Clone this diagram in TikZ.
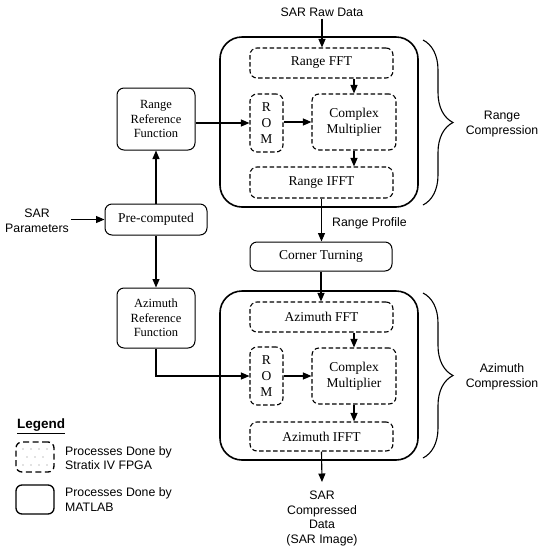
\documentclass[tikz,border=0pt]{standalone}
\usepackage{fontspec}
\setmainfont{Liberation Serif}
\newfontfamily\arialf{Liberation Sans}
\usetikzlibrary{arrows.meta,decorations.pathreplacing}
\begin{document}
\begin{tikzpicture}[x=1pt,y=-1pt,
 fpga/.style={draw, dash pattern=on 4.5pt off 2.5pt, line width=1.1pt, rounded corners=7pt, inner sep=0pt, font=\fontsize{13.5}{16}\selectfont, align=center},
 matlab/.style={draw, line width=1pt, rounded corners=7pt, inner sep=0pt, align=center, font=\fontsize{13.5}{16}\selectfont},
 reffn/.style={matlab, font=\fontsize{12.5}{14.3}\selectfont},
 bigbox/.style={draw, line width=1.6pt, rounded corners=22pt, inner sep=0pt},
 lbl/.style={font=\arialf\fontsize{12.3}{14.5}\selectfont, align=center, inner sep=2pt},
 arr/.style={-{Triangle[length=8.5pt,width=7pt]}, line width=1.1pt},
 brc/.style={decorate, decoration={brace, amplitude=30pt}, line width=1.1pt}]
\useasboundingbox (0,0) rectangle (541,550);
% big MATLAB boxes
\node[bigbox, minimum width=198pt, minimum height=170pt] (rbox) at (319,122) {};
\node[bigbox, minimum width=198pt, minimum height=169pt] (abox) at (319,375.5) {};
% range compression
\node[fpga, minimum width=143pt, minimum height=30pt] (rfft) at (321.5,63) {Range FFT};
\node[fpga, minimum width=33pt, minimum height=58pt] (rom) at (266.5,123) {R\\O\\M};
\node[fpga, minimum width=84pt, minimum height=56pt] (cm) at (354,122) {Complex\\Multiplier};
\node[fpga, minimum width=143pt, minimum height=31pt] (rifft) at (321.5,182.5) {Range IFFT};
% left side
\node[reffn, minimum width=78pt, minimum height=62pt] (rref) at (156,119) {Range\\Reference\\Function};
\node[matlab, minimum width=102pt, minimum height=31pt] (pre) at (156,219.5) {Pre-computed};
\node[reffn, minimum width=78pt, minimum height=60pt] (aref) at (156,318) {Azimuth\\Reference\\Function};
% middle
\node[matlab, minimum width=142pt, minimum height=29pt] (corner) at (321,256.5) {Corner Turning};
% azimuth compression
\node[fpga, minimum width=143pt, minimum height=30pt] (afft) at (321.5,317) {Azimuth FFT};
\node[fpga, minimum width=33pt, minimum height=58pt] (rom2) at (266.5,376) {R\\O\\M};
\node[fpga, minimum width=84pt, minimum height=56pt] (cm2) at (354,376) {Complex\\Multiplier};
\node[fpga, minimum width=143pt, minimum height=29pt] (aifft) at (321.5,436.5) {Azimuth IFFT};
% text labels
\node[lbl] (raw) at (322,12) {SAR Raw Data};
\node[lbl] (sarp) at (37,221) {SAR\\Parameters};
\node[lbl, anchor=west] (rp) at (330,223) {Range Profile};
\node[lbl, anchor=north] (out) at (322,489) {SAR\\Compressed\\Data\\(SAR Image)};
\coordinate (outend) at (322,482);
% connectors
\draw[arr] (raw.south) -- (raw.south |- rfft.north);
\draw[arr] (sarp.east |- pre) -- (pre.west);
\draw[arr] (pre.north) -- (rref.south);
\draw[arr] (pre.south) -- (aref.north);
\draw[arr] (rref.east |- rom) -- (rom.west);
\draw[arr] (rfft.south -| cm) -- (cm.north);
\draw[arr] (rom.east |- cm) -- (cm.west);
\draw[arr] (cm.south) -- (cm.south |- rifft.north);
\draw[arr] (rifft.south) -- (rifft.south |- corner.north);
\draw[arr] (corner.south) -- (corner.south |- afft.north);
\draw[arr] (afft.south -| cm2) -- (cm2.north);
\draw[arr] (rom2.east |- cm2) -- (cm2.west);
\draw[arr] (cm2.south) -- (cm2.south |- aifft.north);
\draw[arr] (aref.south) |- (rom2.west);
\draw[arr] (aifft.south) -- (outend);
% braces
\draw[brc] (423,40) -- (423,205);
\node[lbl] (rc) at (502,124) {Range\\Compression};
\draw[brc] (423,293) -- (423,458);
\node[lbl] (ac) at (502,377) {Azimuth\\Compression};
% legend
\node[font=\arialf\bfseries\fontsize{13.5}{16}\selectfont, anchor=west, inner sep=0pt] (leg) at (17,426) {\underline{Legend}};
\node[draw, dash pattern=on 6pt off 3.5pt, line width=1.3pt, rounded corners=6pt, minimum width=38pt, minimum height=30pt, inner sep=0pt] (lf) at (35,457) {};
\foreach \x in {23,31,39,47} \foreach \y in {449,465} \fill[gray] (\x,\y) circle (0.7);
\foreach \x in {27,35,43} \fill[gray] (\x,457) circle (0.7);
\node[lbl, anchor=west, align=left] (lft) at (63,458) {Processes Done by\\Stratix IV FPGA};
\node[draw, line width=1.3pt, rounded corners=6pt, minimum width=38pt, minimum height=29pt, inner sep=0pt] (lm) at (35,499.5) {};
\node[lbl, anchor=west, align=left] (lmt) at (63,499.5) {Processes Done by\\MATLAB};
\end{tikzpicture}
\end{document}
